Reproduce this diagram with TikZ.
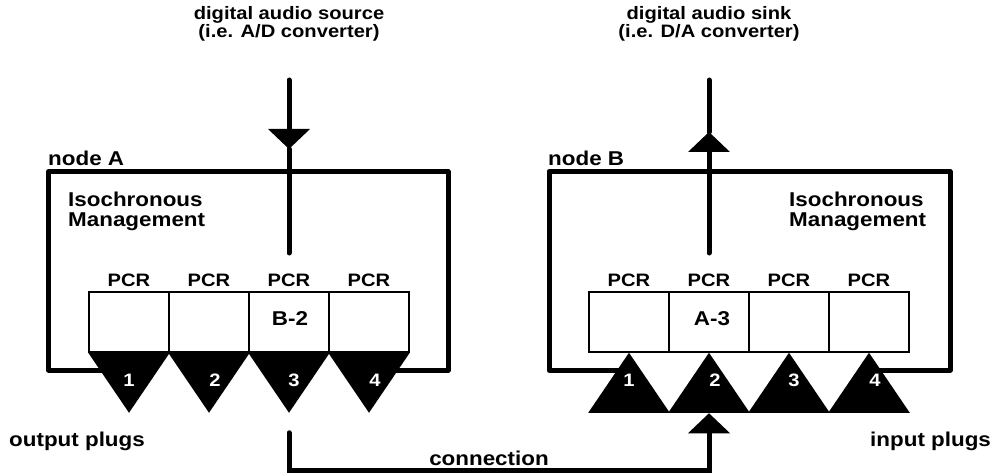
\documentclass[tikz,border=0pt]{standalone}
\usepackage{fontspec}
\setmainfont{Liberation Sans}[FakeStretch=1.12]
\usetikzlibrary{arrows.meta,calc}
\tikzset{
  wire/.style={line width=5pt,line cap=round},
  frame/.style={line width=5pt,line cap=butt,line join=round},
  pcrbox/.style={draw,line width=1.5pt,minimum width=80pt,minimum height=60pt,inner sep=0},
  lbl/.style={inner sep=0,font=\bfseries\fontsize{20}{20}\selectfont},
  sml/.style={inner sep=0,font=\bfseries\fontsize{18}{16.5}\selectfont},
  tip/.style={-{Triangle[width=42pt,length=20pt,line width=0pt]}}
}
\begin{document}
\begin{tikzpicture}[x=1pt,y=-1pt]
\useasboundingbox (0,0) rectangle (995,473);
% node A
\draw[frame] (105,370) -- (48.5,370) -- (48.5,171.5) -- (448,171.5) -- (448,370) -- (392,370);
\node[lbl,anchor=base west] (nodeA) at (48,166) {node A};
\node[lbl,anchor=north west,align=left] (isoA) at (68,192) {Isochronous\\Management};
\foreach \i/\dx in {1/0,2/6,3/5,4/6}{
  \node[pcrbox] (regA\i) at (49+80*\i,322) {};
  \node[sml,anchor=base] (pcrA\i) at ($(regA\i.north)+(0,-5)$) {PCR};
  \fill (regA\i.south west) -- (regA\i.south east) -- ($(regA\i.south)+(0,60)$) coordinate (plugA\i) -- cycle;
  \node[sml,text=white,anchor=base] (numA\i) at ($(regA\i.south)+(\dx,34)$) {\i};
}
\node[lbl,anchor=base] (valA) at (290,325) {B-2};
% node B
\draw[frame] (620,370) -- (549,370) -- (549,171.5) -- (950,171.5) -- (950,370) -- (876,370);
\node[lbl,anchor=base west] (nodeB) at (548,166) {node B};
\node[lbl,anchor=north west,align=left] (isoB) at (789,192) {Isochronous\\Management};
\foreach \i/\dx in {1/0,2/6,3/5,4/6}{
  \node[pcrbox] (regB\i) at (549+80*\i,322) {};
  \node[sml,anchor=base] (pcrB\i) at ($(regB\i.north)+(0,-5)$) {PCR};
  \fill ($(regB\i.south west)+(0,60)$) -- ($(regB\i.south east)+(0,60)$) -- (regB\i.south) -- cycle;
  \coordinate (plugB\i) at ($(regB\i.south)+(0,60)$);
  \node[sml,text=white,anchor=base] (numB\i) at ($(regB\i.south)+(\dx,34)$) {\i};
}
\node[lbl,anchor=base] (valB) at (712,325) {A-3};
% source and sink
\node[sml,align=center] (src) at (289,24) {digital audio source\\(i.e. A/D converter)};
\node[sml,align=center] (sink) at (709,24) {digital audio sink\\(i.e. D/A converter)};
\coordinate (srcin) at (289,80);
\coordinate (srcmid) at (289,149);
\coordinate (srcend) at (289,253);
\draw[wire,tip] (srcin) -- (srcmid);
\draw[wire] (srcmid) -- (srcend);
\coordinate (sinkout) at (709,80);
\coordinate (sinkmid) at (709,132);
\coordinate (sinkin) at (709,253);
\draw[wire,tip] (sinkin) -- (sinkmid);
\draw[wire] (sinkmid) -- (sinkout);
% connection
\draw[wire,line join=miter,tip] ($(plugA3)+(0,20)$) |- ($(plugB2)+(0,58)$) -- ($(plugB2)+(0,0.5)$);
\node[lbl,anchor=base] (conn) at (489,465) {connection};
\node[lbl,anchor=base west] (outp) at (9,446) {output plugs};
\node[lbl,anchor=base west] (inp) at (870,446) {input plugs};
\end{tikzpicture}
\end{document}
